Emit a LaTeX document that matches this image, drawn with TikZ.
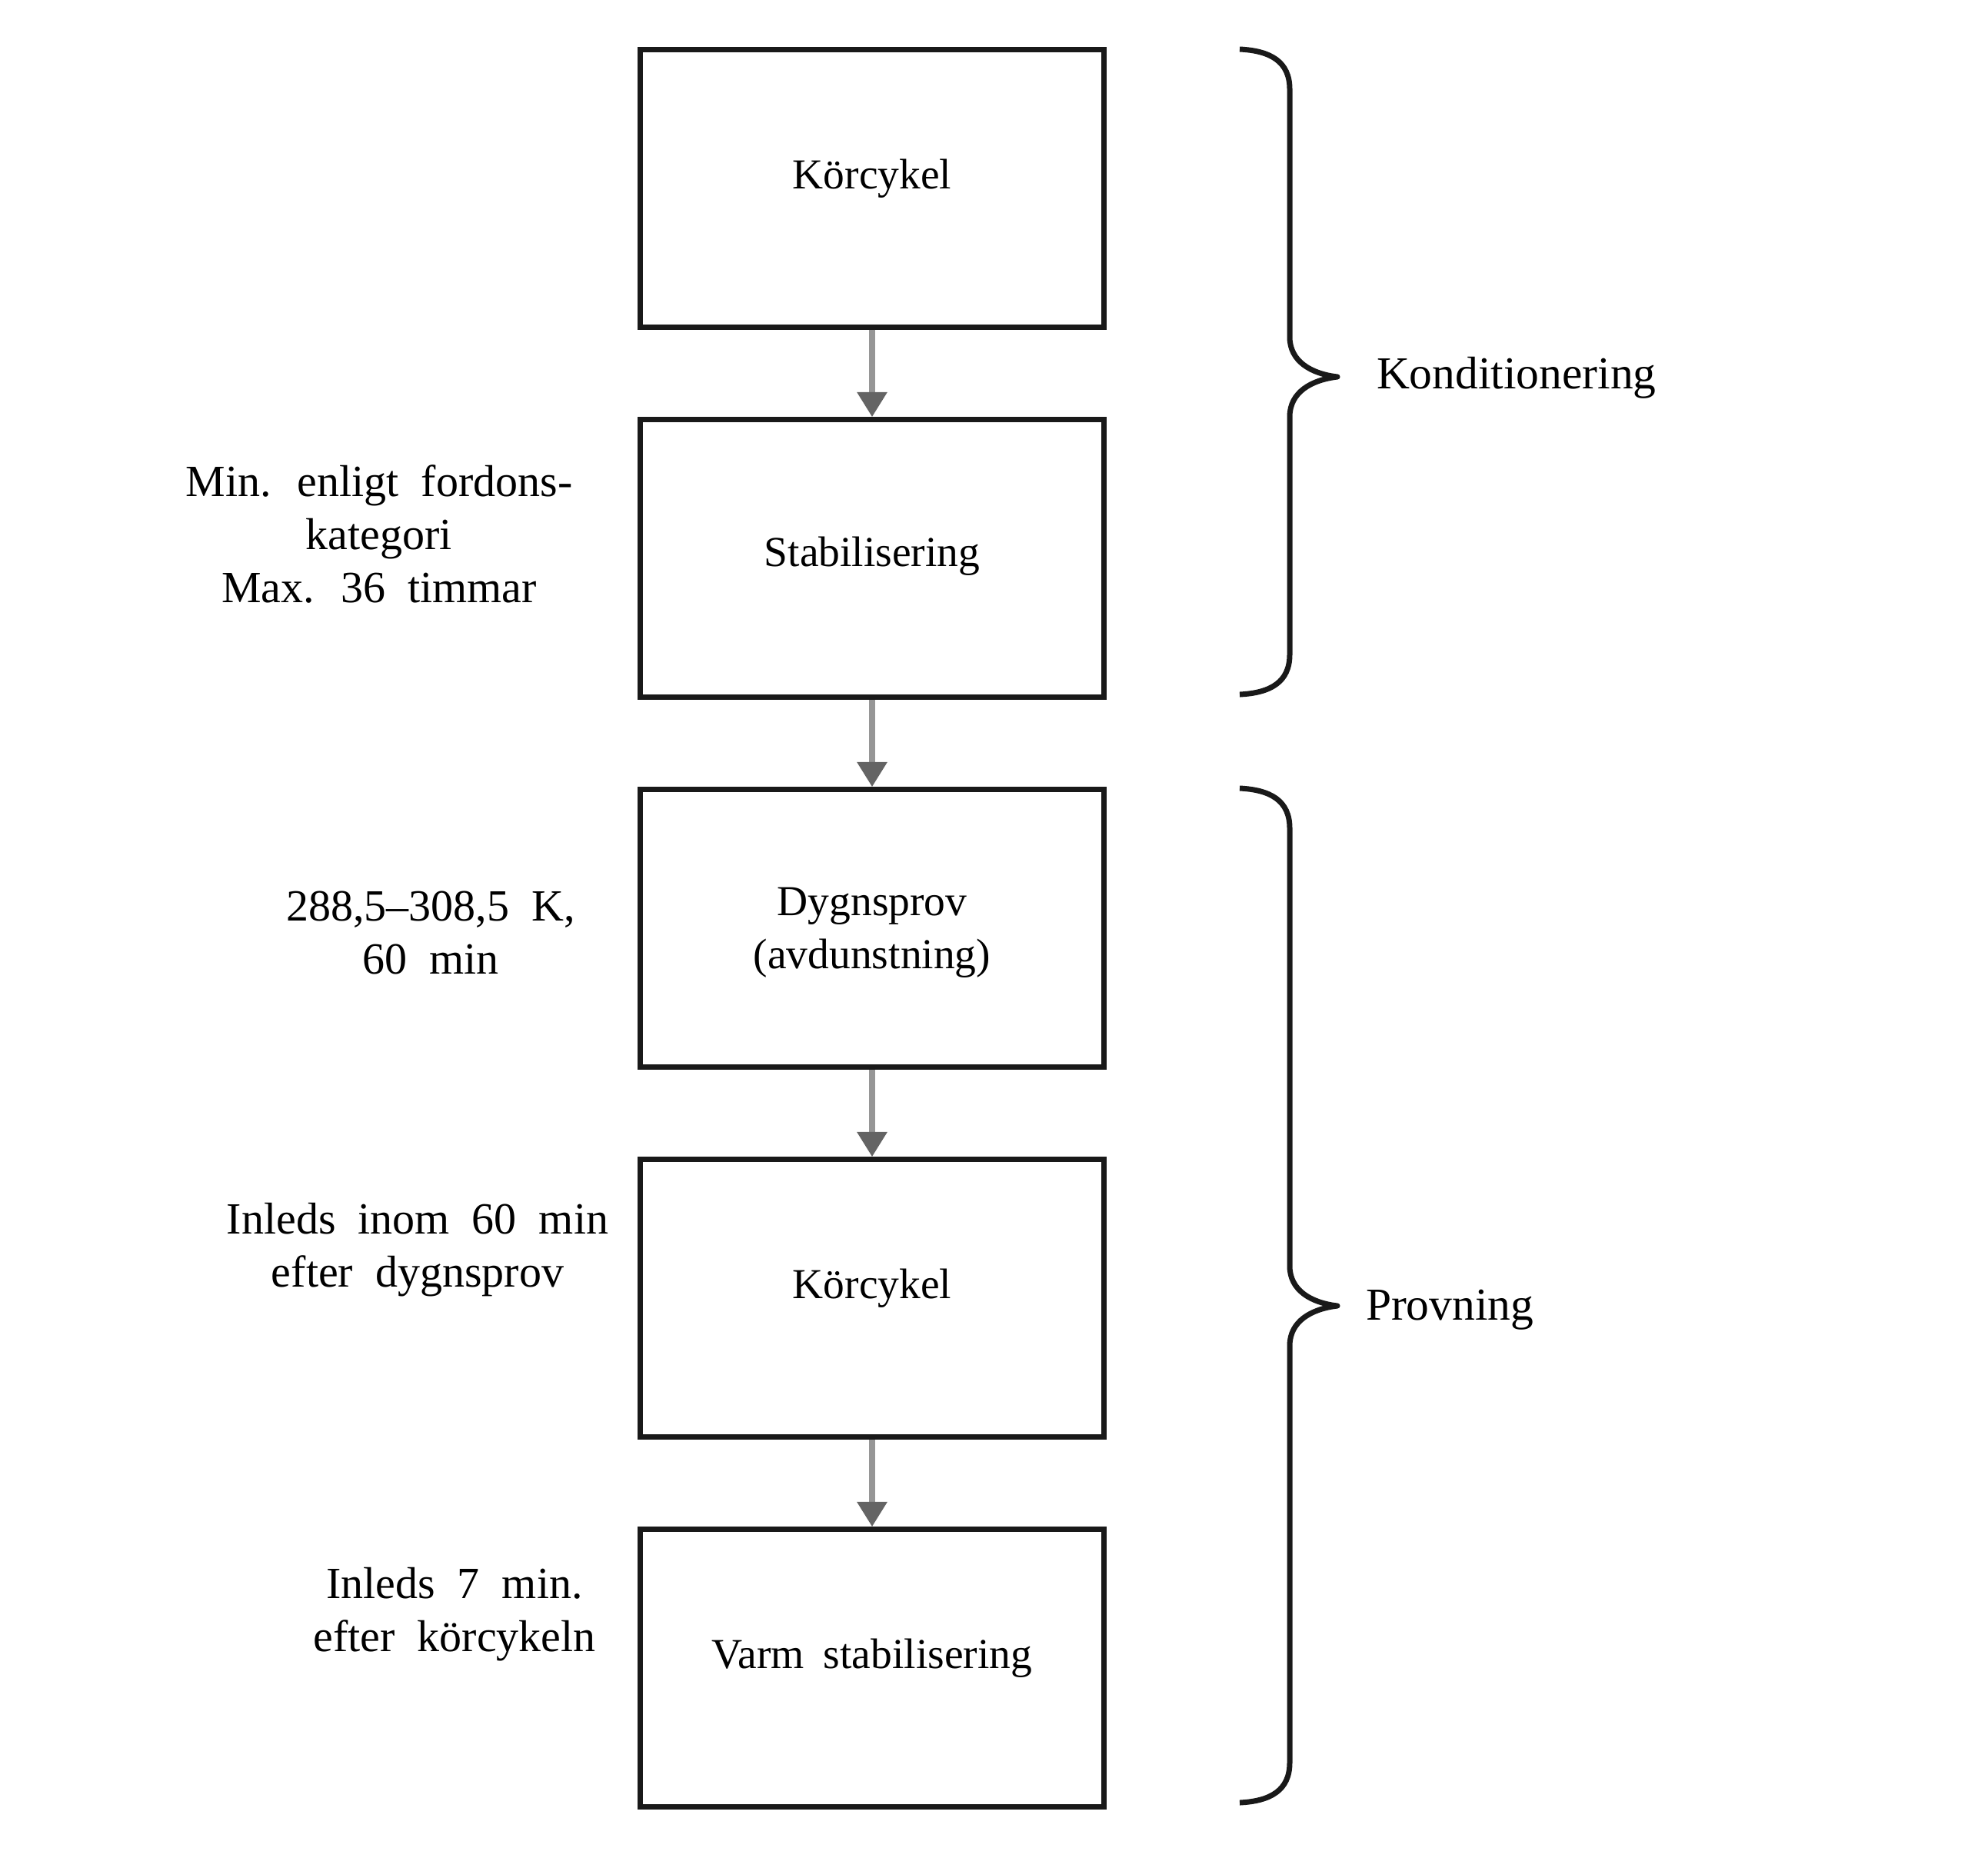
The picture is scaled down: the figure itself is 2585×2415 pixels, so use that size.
\documentclass[tikz,border=0pt]{standalone}
\usepackage{fontspec}
\setmainfont{Liberation Serif}
\usetikzlibrary{positioning,arrows.meta}
\definecolor{FlowInk}{RGB}{25,25,25}
\definecolor{FlowShaft}{RGB}{150,150,150}
\definecolor{FlowHead}{RGB}{100,100,100}
\tikzset{
  flow text/.style={font={\fontsize{11.1}{13.8}\selectfont\spaceskip=0.45em\relax}, align=center},
  flow box/.style={flow text, draw=FlowInk, line width=1.3pt, minimum width=120.6pt, minimum height=72.2pt, inner sep=0pt, text depth=7.5pt},
  flow note/.style={font={\fontsize{11.6}{13.8}\selectfont\spaceskip=0.5em\relax}, align=center},
  flow arrow/.style={-{Triangle[width=7.5pt,length=6.5pt,color=FlowHead]}, line width=1.6pt, FlowShaft},
  flow brace/.style={line width=1.4pt, FlowInk, line join=round},
  flow group/.style={font={\fontsize{11.9}{13.8}\selectfont}, anchor=west, inner sep=0pt}
}
\begin{document}
\begin{tikzpicture}[x=0.2pt, y=-0.2pt, node distance=22.7pt]
\useasboundingbox (0,0) rectangle (2585,2415);
% steps
\node[flow box] (kc1) at (1134,245) {Körcykel};
\node[flow box, below=of kc1, text depth=3.5pt] (stab) {Stabilisering};
\node[flow box, below=of stab, text depth=-2pt] (dygn) {Dygnsprov\\(avdunstning)};
\node[flow box, below=of dygn] (kc2) {Körcykel};
\node[flow box, below=of kc2] (varm) {Varm stabilisering};
\draw[flow arrow] (kc1) -- (stab);
\draw[flow arrow] (stab) -- (dygn);
\draw[flow arrow] (dygn) -- (kc2);
\draw[flow arrow] (kc2) -- (varm);
% notes on the left
\node[flow note] (n1) at (493,694) {Min. enligt fordons-\\kategori\\Max. 36 timmar};
\node[flow note] (n2) at (560,1213) {288,5--308,5 K,\\60 min};
\node[flow note] (n3) at (543,1625) {Inleds inom 60 min\\efter dygnsprov};
\node[flow note] (n4) at (591,2099) {Inleds 7 min.\\efter körcykeln};
% braces
\draw[flow brace] (1612,64) .. controls (1652,66) and (1677,80) .. (1677,116) -- (1677,438)
  .. controls (1677,470) and (1705,486) .. (1739,490) .. controls (1705,494) and (1677,510) .. (1677,542)
  -- (1677,851) .. controls (1677,887) and (1652,901) .. (1612,903);
\draw[flow brace] (1612,1025) .. controls (1652,1027) and (1677,1041) .. (1677,1077) -- (1677,1646)
  .. controls (1677,1678) and (1705,1694) .. (1739,1698) .. controls (1705,1702) and (1677,1718) .. (1677,1750)
  -- (1677,2292) .. controls (1677,2328) and (1652,2342) .. (1612,2344);
\node[flow group] (kond) at (1789,491) {Konditionering};
\node[flow group] (prov) at (1775,1703) {Provning};
\end{tikzpicture}
\end{document}
